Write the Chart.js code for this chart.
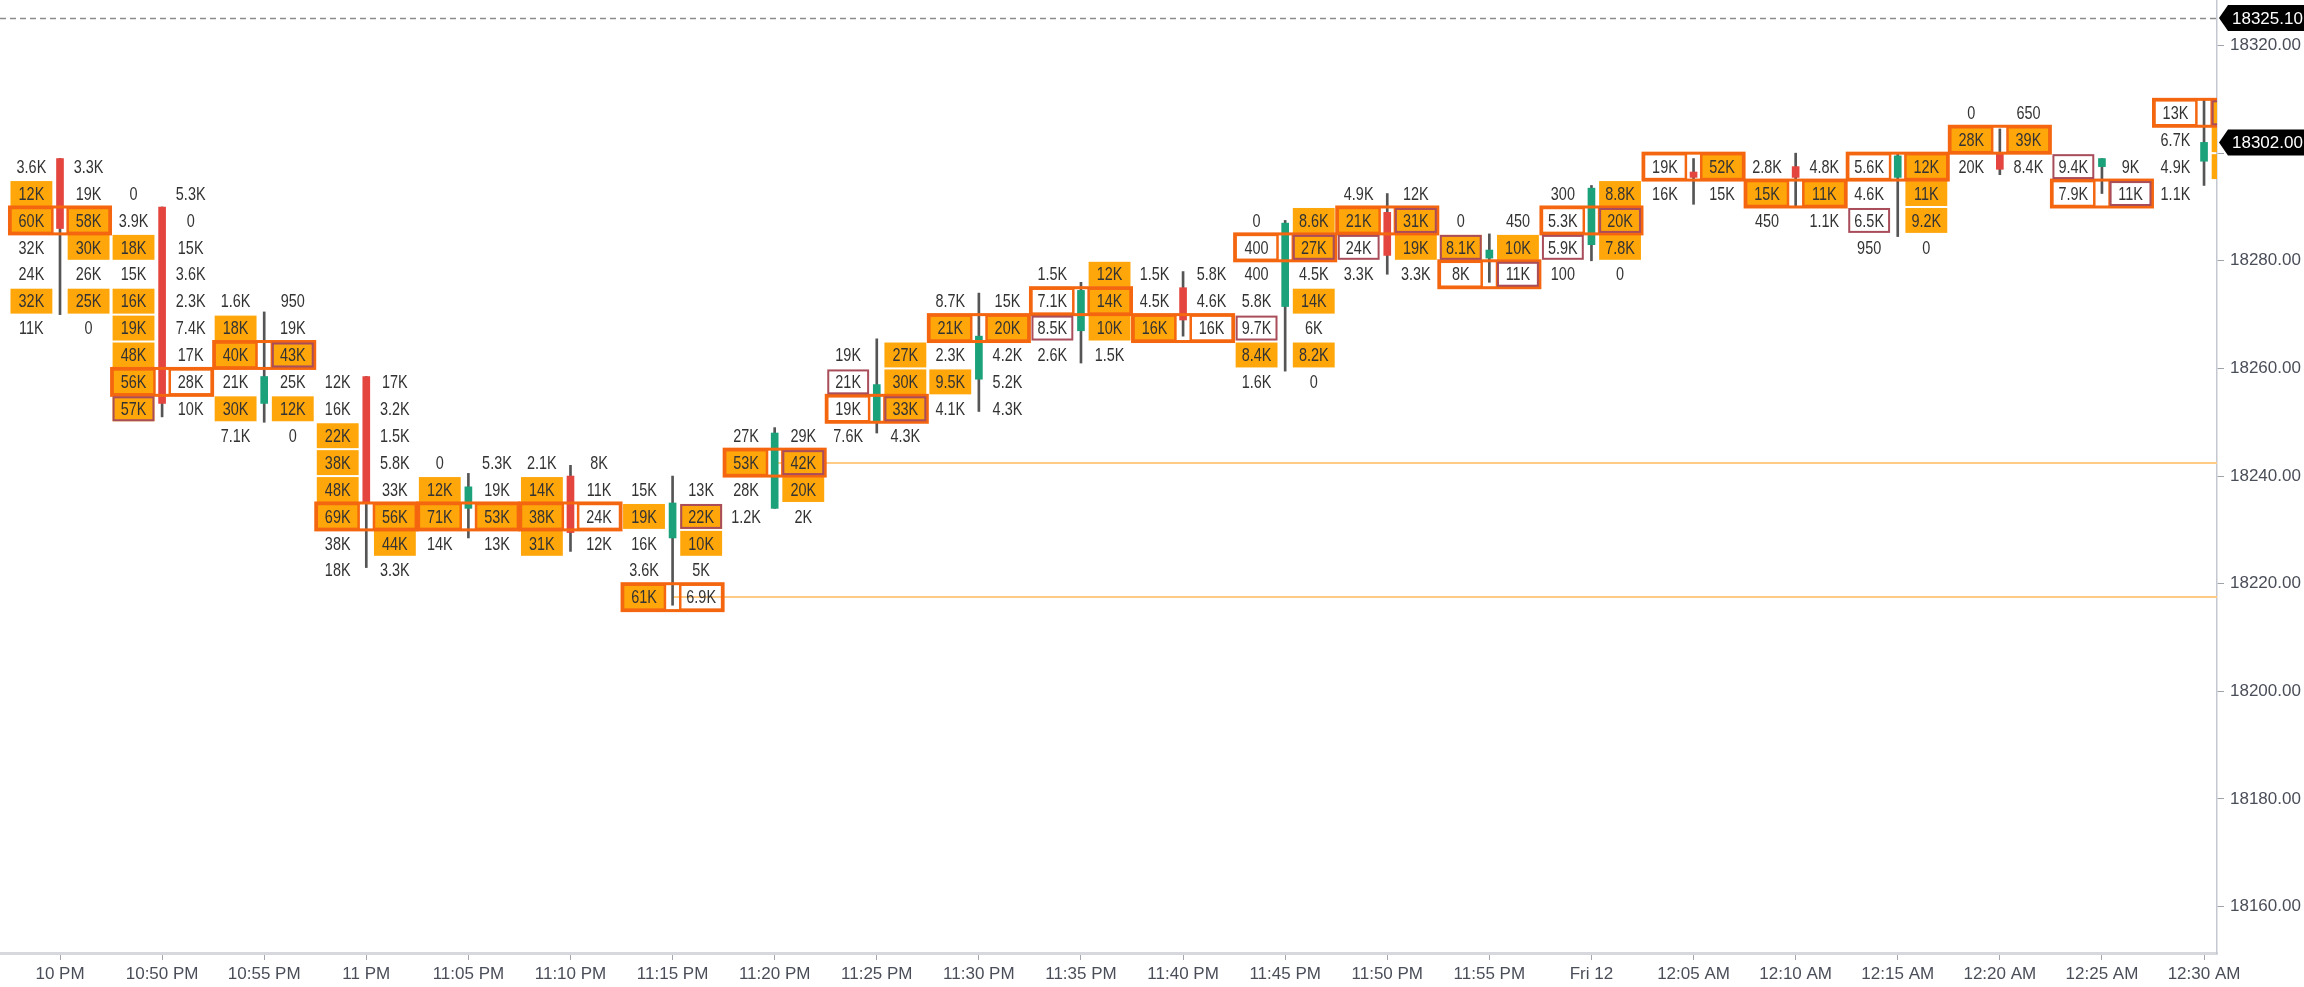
<!DOCTYPE html>
<html>
<head>
<meta charset="utf-8">
<title>Footprint</title>
<script src="https://cdn.jsdelivr.net/npm/chart.js@4.4.1/dist/chart.umd.min.js"></script>
<style>
  html, body { margin: 0; padding: 0; background: #ffffff; overflow: hidden; }
  canvas { display: block; }
</style>
</head>
<body>
<canvas id="footprint-chart" width="2304" height="987"></canvas>
<script>
// 5 minute bars
const times = ["10 PM", "10:50 PM", "10:55 PM", "11 PM", "11:05 PM", "11:10 PM", "11:15 PM", "11:20 PM",
    "11:25 PM", "11:30 PM", "11:35 PM", "11:40 PM", "11:45 PM", "11:50 PM", "11:55 PM", "Fri 12",
    "12:05 AM", "12:10 AM", "12:15 AM", "12:20 AM", "12:25 AM", "12:30 AM"];

const opens  = [18299, 18290, 18253.5, 18258.5, 18234, 18240, 18228.5, 18234, 18250, 18258, 18267,
    18275, 18271.5, 18289, 18280.5, 18283, 18296.5, 18297.5, 18295.5, 18300, 18297.5, 18298.5];
const highs  = [18299, 18290, 18270.5, 18258.5, 18240.5, 18242, 18240, 18249, 18265.5, 18274, 18276,
    18278, 18287.5, 18292.5, 18285, 18294, 18299, 18300, 18300, 18304.5, 18299, 18310];
const lows   = [18270, 18251, 18250, 18223, 18228.5, 18226, 18216, 18234, 18248, 18252, 18261,
    18266, 18259.5, 18277.5, 18276, 18280, 18290.5, 18290, 18284.5, 18296, 18292.5, 18294];
const closes = [18286, 18253.5, 18258.5, 18235, 18238, 18229.5, 18235, 18248, 18257, 18266, 18274.5,
    18269, 18287, 18281, 18282, 18293.5, 18295.5, 18295.5, 18299.5, 18297, 18299, 18302];

// price of the first (highest) row of each bar, rows go down in 5 pt steps
const topRow = [18297.5, 18292.5, 18272.5, 18257.5, 18242.5, 18242.5, 18237.5, 18247.5, 18262.5, 18272.5,
    18277.5, 18277.5, 18287.5, 18292.5, 18287.5, 18292.5, 18297.5, 18297.5, 18297.5, 18307.5, 18297.5, 18307.5];

// volume traded at bid / at ask, per row, top to bottom
const bidVol = [
    [3600, 12000, 60000, 32000, 24000, 32000, 11000],
    [0, 3900, 18000, 15000, 16000, 19000, 48000, 56000, 57000],
    [1600, 18000, 40000, 21000, 30000, 7100],
    [12000, 16000, 22000, 38000, 48000, 69000, 38000, 18000],
    [0, 12000, 71000, 14000],
    [2100, 14000, 38000, 31000],
    [15000, 19000, 16000, 3600, 61000],
    [27000, 53000, 28000, 1200],
    [19000, 21000, 19000, 7600],
    [8700, 21000, 2300, 9500, 4100],
    [1500, 7100, 8500, 2600],
    [1500, 4500, 16000],
    [0, 400, 400, 5800, 9700, 8400, 1600],
    [4900, 21000, 24000, 3300],
    [0, 8100, 8000],
    [300, 5300, 5900, 100],
    [19000, 16000],
    [2800, 15000, 450],
    [5600, 4600, 6500, 950],
    [0, 28000, 20000],
    [9400, 7900],
    [13000, 6700, 4900, 1100]
];
const askVol = [
    [3300, 19000, 58000, 30000, 26000, 25000, 0],
    [5300, 0, 15000, 3600, 2300, 7400, 17000, 28000, 10000],
    [950, 19000, 43000, 25000, 12000, 0],
    [17000, 3200, 1500, 5800, 33000, 56000, 44000, 3300],
    [5300, 19000, 53000, 13000],
    [8000, 11000, 24000, 12000],
    [13000, 22000, 10000, 5000, 6900],
    [29000, 42000, 20000, 2000],
    [27000, 30000, 33000, 4300],
    [15000, 20000, 4200, 5200, 4300],
    [12000, 14000, 10000, 1500],
    [5800, 4600, 16000],
    [8600, 27000, 4500, 14000, 6000, 8200, 0],
    [12000, 31000, 19000, 3300],
    [450, 10000, 11000],
    [8800, 20000, 7800, 0],
    [52000, 15000],
    [4800, 11000, 1100],
    [12000, 11000, 9200, 0],
    [650, 39000, 8400],
    [9000, 11000],
    [15000, 12000, 9600, 2400]
];

// rows flagged as imbalance (row index from top)
const bidImbalance = [[1, 2, 5], [2, 4, 5, 6, 7, 8], [1, 2, 4], [2, 3, 4, 5], [1, 2], [1, 2, 3], [1, 4], [1], [], [1, 3],
    [], [2], [5], [1], [1], [], [], [1], [], [1], [], []];
const askImbalance = [[2, 3, 5], [], [2, 4], [5, 6], [2], [], [1, 2], [1, 2], [0, 1, 2], [1], [0, 1, 2], [],
    [0, 1, 3, 5], [1, 2], [1], [0, 1, 2], [0], [1], [0, 1, 2], [1], [], [0, 1, 2]];

// rows flagged as value area edge
const bidEdge = [[], [8], [], [], [], [], [], [], [1], [], [2], [], [4], [2], [1], [2], [], [], [2], [], [0], []];
const askEdge = [[], [], [2], [], [], [], [1], [1], [2], [], [], [], [1], [1], [2], [1], [], [], [], [], [1], [0]];

const referenceLevel = 18325.10;
const lastPrice = closes[closes.length - 1];

const GREEN = "#1ba27a";
const RED = "#e5453f";
const FILL = "#ffa60a";
const POC = "#f4660f";
const EDGE = "#a94d5a";
const NAKED = "#ffcb85";
const TEXT = "#333333";
const FONT = '"Liberation Sans", Arial, sans-serif';

function fmtVol(v) {
    if (v < 1000) return String(v);
    if (v < 10000) return (Math.round(v / 100) / 10) + "K";
    return Math.round(v / 1000) + "K";
}

function pocRow(i) {
    let best = 0, bestSum = -1;
    bidVol[i].forEach((b, r) => {
        const s = b + askVol[i][r];
        if (s > bestSum) { bestSum = s; best = r; }
    });
    return best;
}

function rowsCover(j, price) {
    const bottom = topRow[j] - 5 * (bidVol[j].length - 1);
    return price <= topRow[j] + 0.01 && price >= bottom - 0.01;
}

function geometry(chart) {
    const { x, y } = chart.scales;
    const step = x.getPixelForValue(1) - x.getPixelForValue(0);
    const rowH = y.getPixelForValue(18000) - y.getPixelForValue(18005);
    return { x, y, off: step * 0.28, w: step * 0.41, h: rowH - 2 };
}

function clipArea(chart) {
    const a = chart.chartArea;
    chart.ctx.save();
    chart.ctx.beginPath();
    chart.ctx.rect(a.left, a.top, a.right - a.left, a.bottom - a.top);
    chart.ctx.clip();
}

const footprintPlugin = {
    id: "footprint",
    beforeDatasetsDraw(chart) {
        const ctx = chart.ctx;
        const g = geometry(chart);
        clipArea(chart);

        // naked POC lines
        ctx.strokeStyle = NAKED;
        ctx.lineWidth = 2;
        for (let i = 0; i < times.length - 1; i++) {
            const price = topRow[i] - 5 * pocRow(i);
            let touched = false;
            for (let j = i + 1; j < times.length; j++) {
                if (rowsCover(j, price)) { touched = true; break; }
            }
            if (touched) continue;
            const py = Math.round(g.y.getPixelForValue(price));
            ctx.beginPath();
            ctx.moveTo(g.x.getPixelForValue(i), py);
            ctx.lineTo(chart.chartArea.right, py);
            ctx.stroke();
        }

        // imbalance cells
        ctx.fillStyle = FILL;
        times.forEach((t, i) => {
            const cx = g.x.getPixelForValue(i);
            bidImbalance[i].forEach(r => {
                const cy = g.y.getPixelForValue(topRow[i] - 5 * r);
                ctx.fillRect(cx - g.off - g.w / 2, cy - g.h / 2, g.w, g.h);
            });
            askImbalance[i].forEach(r => {
                const cy = g.y.getPixelForValue(topRow[i] - 5 * r);
                ctx.fillRect(cx + g.off - g.w / 2, cy - g.h / 2, g.w, g.h);
            });
        });
        ctx.restore();
    },
    afterDatasetsDraw(chart) {
        const ctx = chart.ctx;
        const g = geometry(chart);
        clipArea(chart);

        times.forEach((t, i) => {
            const cx = g.x.getPixelForValue(i);
            const bx = cx - g.off, ax = cx + g.off;

            // POC box
            const pr = pocRow(i);
            const py = g.y.getPixelForValue(topRow[i] - 5 * pr);
            ctx.strokeStyle = POC;
            ctx.lineWidth = 3;
            ctx.strokeRect(bx - g.w / 2 - 1, py - g.h / 2 - 1, (ax - bx) + g.w + 2, g.h + 2);
            ctx.lineWidth = 2.5;
            ctx.strokeRect(bx - g.w / 2, py - g.h / 2, g.w, g.h);
            ctx.strokeRect(ax - g.w / 2, py - g.h / 2, g.w, g.h);

            // value area edge cells
            ctx.strokeStyle = EDGE;
            ctx.lineWidth = 2;
            bidEdge[i].forEach(r => {
                const cy = g.y.getPixelForValue(topRow[i] - 5 * r);
                ctx.strokeRect(bx - g.w / 2 + 1, cy - g.h / 2 + 1, g.w - 2, g.h - 2);
            });
            askEdge[i].forEach(r => {
                const cy = g.y.getPixelForValue(topRow[i] - 5 * r);
                ctx.strokeRect(ax - g.w / 2 + 1, cy - g.h / 2 + 1, g.w - 2, g.h - 2);
            });

            // volumes
            ctx.fillStyle = TEXT;
            ctx.font = "19px " + FONT;
            ctx.textAlign = "center";
            ctx.textBaseline = "middle";
            bidVol[i].forEach((b, r) => {
                const cy = g.y.getPixelForValue(topRow[i] - 5 * r) + 1;
                [[bx, b], [ax, askVol[i][r]]].forEach(([tx, v]) => {
                    ctx.save();
                    ctx.translate(tx, cy);
                    ctx.scale(0.76, 1);
                    ctx.fillText(fmtVol(v), 0, 0);
                    ctx.restore();
                });
            });
        });

        // reference level
        const ry = Math.round(g.y.getPixelForValue(referenceLevel)) + 0.5;
        ctx.strokeStyle = "#8c8c8c";
        ctx.lineWidth = 1.5;
        ctx.setLineDash([6, 4]);
        ctx.beginPath();
        ctx.moveTo(chart.chartArea.left, ry);
        ctx.lineTo(chart.chartArea.right, ry);
        ctx.stroke();
        ctx.setLineDash([]);
        ctx.restore();
    },
    afterDraw(chart) {
        const ctx = chart.ctx;
        const y = chart.scales.y;
        const left = chart.chartArea.right;
        [referenceLevel, lastPrice].forEach(p => {
            const py = y.getPixelForValue(p);
            const h = 26;
            ctx.fillStyle = "#000000";
            ctx.beginPath();
            ctx.moveTo(left + 2, py);
            ctx.lineTo(left + 11, py - h / 2);
            ctx.lineTo(chart.width, py - h / 2);
            ctx.lineTo(chart.width, py + h / 2);
            ctx.lineTo(left + 11, py + h / 2);
            ctx.closePath();
            ctx.fill();
            ctx.fillStyle = "#ffffff";
            ctx.font = "17px " + FONT;
            ctx.textAlign = "left";
            ctx.textBaseline = "middle";
            ctx.fillText(p.toFixed(2), left + 15, py + 1);
        });
    }
};

const ctx = document.getElementById("footprint-chart").getContext("2d");
const candleColors = closes.map((c, i) => c >= opens[i] ? GREEN : RED);

new Chart(ctx, {
    type: "bar",
    data: {
        datasets: [{
            label: "body",
            data: opens.map((o, i) => ({ x: i, y: [o, closes[i]] })),
            backgroundColor: candleColors,
            barThickness: 7,
            grouped: false,
            order: 0
        }, {
            label: "wick",
            data: lows.map((l, i) => ({ x: i, y: [l, highs[i]] })),
            backgroundColor: "#555555",
            barThickness: 2,
            grouped: false,
            order: 1
        }]
    },
    options: {
        responsive: false,
        animation: false,
        layout: { padding: 0, autoPadding: false },
        plugins: {
            legend: { display: false },
            tooltip: { enabled: false }
        },
        scales: {
            x: {
                type: "linear",
                offset: false,
                min: -0.5877,
                max: 21.127,
                afterFit: s => { s.height = 34; s.paddingLeft = 0; s.paddingRight = 0; },
                grid: { drawOnChartArea: false, drawTicks: true, tickLength: 7, color: "#a3a6ad", offset: false },
                border: { display: true, color: "#d6d8dd", width: 3 },
                ticks: {
                    stepSize: 1,
                    autoSkip: false,
                    maxRotation: 0,
                    includeBounds: false,
                    padding: 4,
                    color: "#4a4e59",
                    font: { family: FONT, size: 17 },
                    callback: v => Number.isInteger(v) && times[v] ? times[v] : ""
                }
            },
            y: {
                position: "right",
                min: 18151.38,
                max: 18328.46,
                afterFit: s => { s.width = 87; s.paddingTop = 0; s.paddingBottom = 0; },
                grid: { drawOnChartArea: false, drawTicks: true, tickLength: 7, color: "#9ea1a8" },
                border: { display: true, color: "#c4c7cf", width: 1.5 },
                ticks: {
                    stepSize: 20,
                    includeBounds: false,
                    padding: 6,
                    color: "#4a4e59",
                    font: { family: FONT, size: 17 },
                    callback: v => (Math.abs(v - lastPrice) < 4 || Math.abs(v - referenceLevel) < 4) ? "" : v.toFixed(2)
                }
            }
        }
    },
    plugins: [footprintPlugin]
});
</script>
</body>
</html>
